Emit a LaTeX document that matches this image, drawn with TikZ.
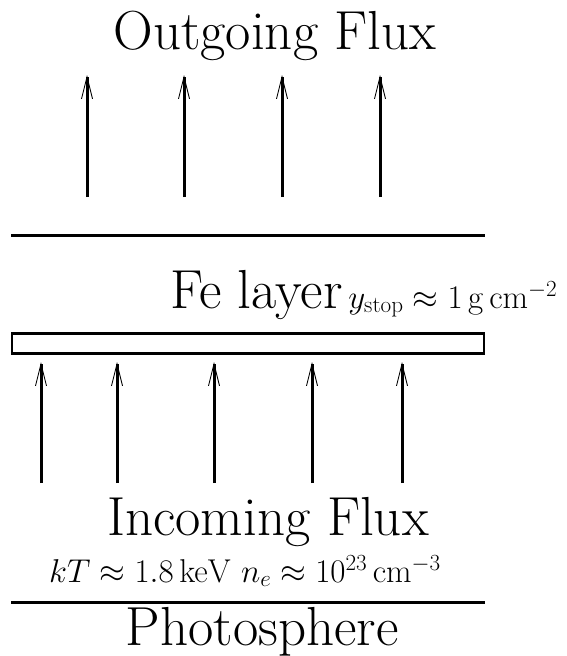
\RequirePackage{fix-cm}
\documentclass[tikz,border=0pt]{standalone}
\usetikzlibrary{arrows.meta}
\begin{document}
\begin{tikzpicture}[x=1pt,y=-1pt,
  big/.style={inner sep=0pt,anchor=base,font=\fontsize{55}{64}\selectfont},
  mid/.style={inner sep=0pt,anchor=base,font=\fontsize{33}{39}\selectfont},
  flux/.style={line width=3pt,-{Straight Barb[length=22pt,width=11pt,line width=0.9pt]}},
  bar/.style={line width=3pt}]
\useasboundingbox (0,0) rectangle (566,656);
% texts
\node[big] (out) at (275,49) {Outgoing Flux};
\node[big,anchor=base west] (fe) at (170,308) {Fe layer};
\node[mid,anchor=base west] (ystop) at (fe.base east) {$\,y_{\mathrm{stop}}\approx1\,\mathrm{g\,cm^{-2}}$};
\node[big] (inc) at (268,535) {Incoming Flux};
\node[mid] (cond) at (245,582) {$kT\approx1.8\,\mathrm{keV}\ n_e\approx10^{23}\,\mathrm{cm^{-3}}$};
\node[big] (photo) at (262,645) {Photosphere};
% lines
\coordinate (t1) at (11,235); \coordinate (t2) at (485,235);
\draw[bar] (t1) -- (t2);
\coordinate (p1) at (11,602); \coordinate (p2) at (485,602);
\draw[bar] (p1) -- (p2);
\coordinate (r1) at (12,333.5); \coordinate (r2) at (484,353.5);
\draw[line width=2.5pt] (r1) rectangle (r2);
% outgoing arrows
\foreach \x [count=\i] in {87,184,282,380}{
  \coordinate (ob\i) at (\x,197); \coordinate (ot\i) at (\x,75);
  \draw[flux] (ob\i) -- (ot\i);
}
% incoming arrows
\foreach \x [count=\i] in {41,117,214,312,402}{
  \coordinate (ib\i) at (\x,483); \coordinate (it\i) at (\x,362);
  \draw[flux] (ib\i) -- (it\i);
}
\end{tikzpicture}
\end{document}
